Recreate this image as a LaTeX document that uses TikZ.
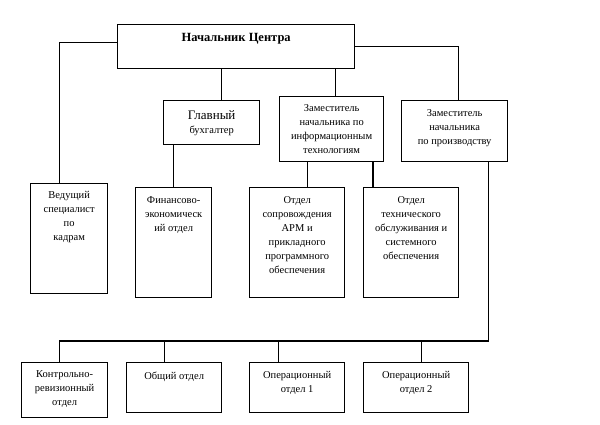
\documentclass[tikz,border=0pt]{standalone}
\usepackage{fontspec}
\setmainfont{Liberation Serif}
\usetikzlibrary{positioning}

\begin{document}
\begin{tikzpicture}[x=1pt,y=-1pt,line width=1.3pt,
   orgbox/.style={draw,anchor=north west,inner sep=0pt},
   orgtext/.style={align=center,inner sep=0pt,font=\fontsize{10.5}{14}\selectfont}]
  \useasboundingbox (0,0) rectangle (600,425);
  % head and deputies
  \node[orgbox,minimum width=237pt,minimum height=44pt] (chief) at (117,24) {};
  \node[orgbox,minimum width=96pt,minimum height=44pt]  (gb)    at (163,100) {};
  \node[orgbox,minimum width=104pt,minimum height=65pt] (zit)   at (279,96) {};
  \node[orgbox,minimum width=106pt,minimum height=61pt] (zpr)   at (401,100) {};
  % departments
  \node[orgbox,minimum width=77pt,minimum height=110pt] (ved) at (30,183) {};
  \node[orgbox,minimum width=76pt,minimum height=110pt] (fin) at (135,187) {};
  \node[orgbox,minimum width=95pt,minimum height=110pt] (sop) at (249,187) {};
  \node[orgbox,minimum width=95pt,minimum height=110pt] (teh) at (363,187) {};
  \node[orgbox,minimum width=86pt,minimum height=55pt]  (krv) at (21,362) {};
  \node[orgbox,minimum width=95pt,minimum height=50pt]  (obs) at (126,362) {};
  \node[orgbox,minimum width=95pt,minimum height=50pt]  (op1) at (249,362) {};
  \node[orgbox,minimum width=105pt,minimum height=50pt] (op2) at (363,362) {};

  \node[orgtext,below=9pt of chief.north,font=\fontsize{12.5}{14}\selectfont\bfseries] (chief-t) {Начальник Центра};
  \node[orgtext,below=10pt of gb.north] (gb-t) {{\fontsize{13}{15}\selectfont Главный}\\бухгалтер};
  \node[orgtext,below=8pt of zit.north] (zit-t) {Заместитель\\начальника по\\информационным\\технологиям};
  \node[orgtext,below=9pt of zpr.north] (zpr-t) {Заместитель\\начальника\\по производству};
  \node[orgtext,below=8pt of ved.north] (ved-t) {Ведущий\\специалист\\по\\кадрам};
  \node[orgtext,below=9pt of fin.north] (fin-t) {Финансово-\\экономическ\\ий отдел};
  \node[orgtext,below=9pt of sop.north] (sop-t) {Отдел\\сопровождения\\АРМ и\\прикладного\\программного\\обеспечения};
  \node[orgtext,below=9pt of teh.north] (teh-t) {Отдел\\технического\\обслуживания и\\системного\\обеспечения};
  \node[orgtext,below=8pt of krv.north] (krv-t) {Контрольно-\\ревизионный\\отдел};
  \node[orgtext,below=9pt of obs.north] (obs-t) {Общий отдел};
  \node[orgtext,below=9pt of op1.north] (op1-t) {Операционный\\отдел 1};
  \node[orgtext,below=9pt of op2.north] (op2-t) {Операционный\\отдел 2};

  % links
  \draw ([yshift=4pt]chief.west) -| ([xshift=-9.5pt]ved.north);
  \draw (chief.east) -| ([xshift=4pt]zpr.north);
  \draw ([xshift=10pt]gb.north) -- ([xshift=10pt]gb.north |- chief.south);
  \draw ([xshift=4pt]zit.north) -- ([xshift=4pt]zit.north |- chief.south);
  \draw (fin.north) -- (fin.north |- gb.south);
  \draw ([xshift=10.5pt]sop.north) -- ([xshift=10.5pt]sop.north |- zit.south);
  \draw ([xshift=10pt]teh.north west) -- ([xshift=10pt]teh.north west |- zit.south);
  \draw ([xshift=34pt]zpr.south) |- ([xshift=-5pt,yshift=21pt]krv.north) -- ([xshift=-5pt]krv.north);
  \foreach \b/\dx in {obs/-9.5,op1/-18.5,op2/5.5}{
    \draw ([xshift=\dx pt]\b.north) -- ([xshift=\dx pt,yshift=21pt]\b.north);
  }
\end{tikzpicture}
\end{document}
